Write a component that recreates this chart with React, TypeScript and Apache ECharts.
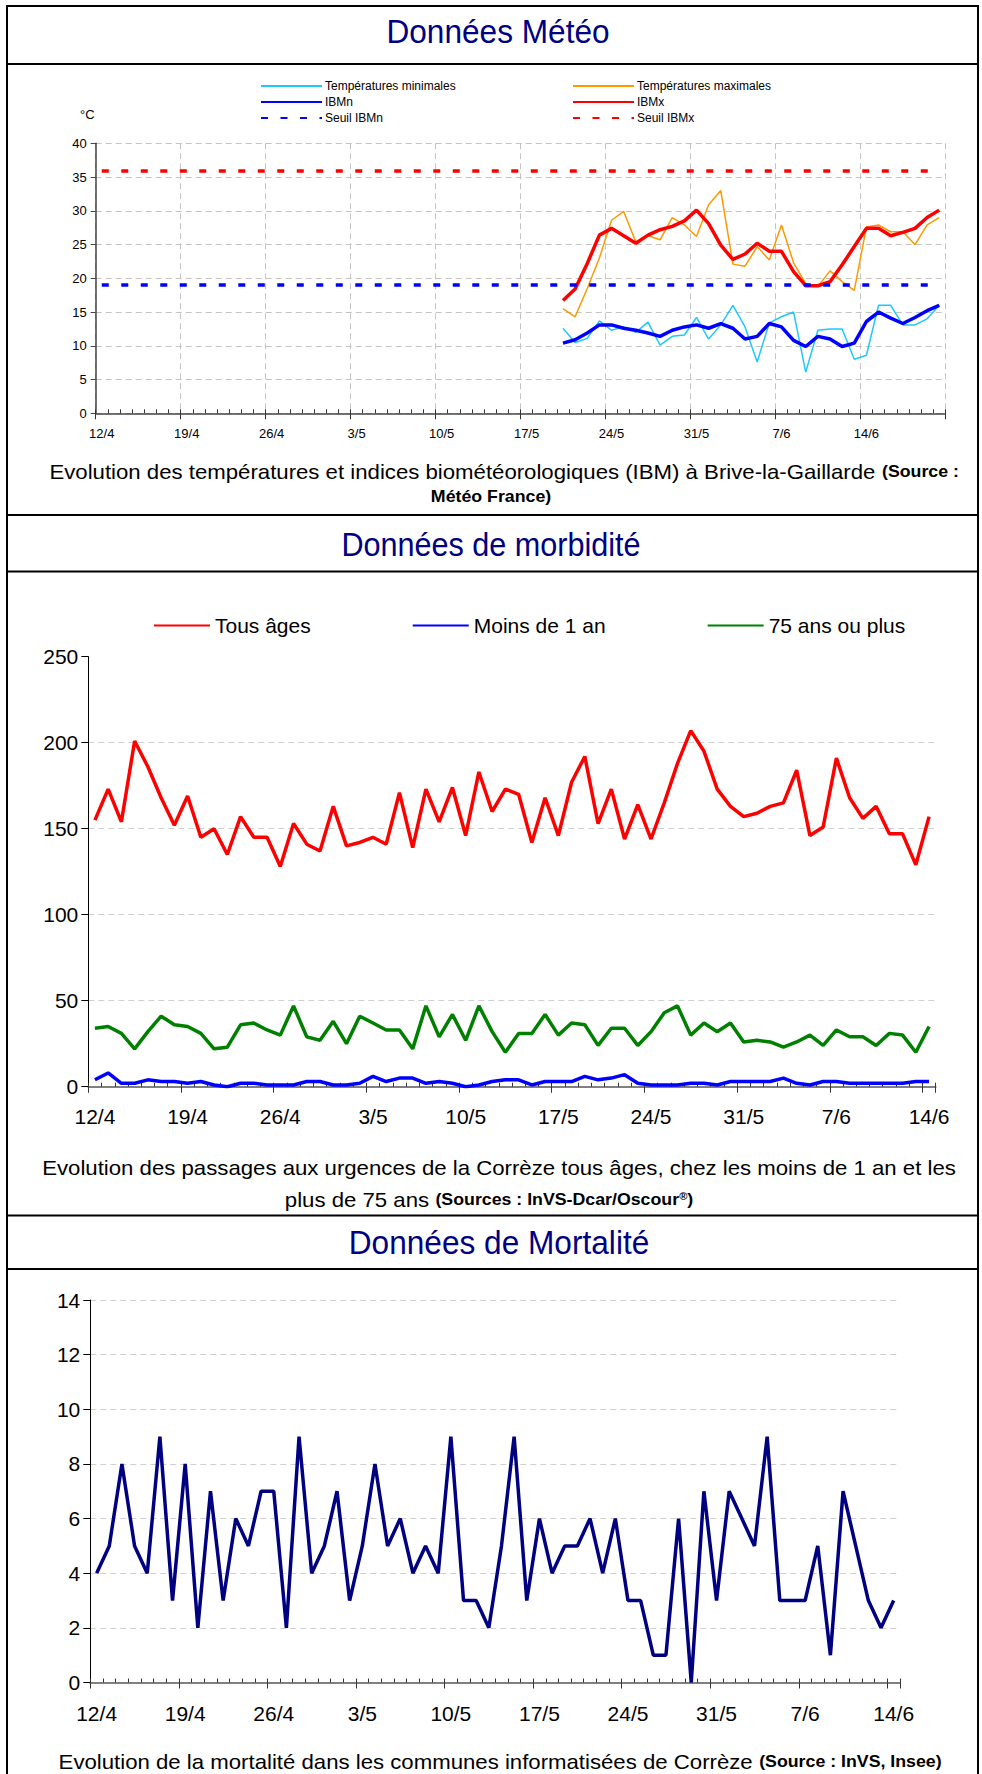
import React, { useEffect, useRef } from 'react';
import * as echarts from 'echarts';

const FONT = "'Liberation Sans', Arial, Helvetica, sans-serif";

function dayLabels(day: number, month: number, n: number): string[] {
  const out: string[] = [];
  for (let i = 0; i < n; i++) {
    const d = new Date(2012, month - 1, day + i);
    out.push(`${d.getDate()}/${d.getMonth() + 1}`);
  }
  return out;
}

// ---------- Données Météo ----------
const meteoDays = dayLabels(12, 4, 70); // 12/4 .. 20/6
const meteoStart = '20/5';
const tempMin = [12.6, 10.5, 11.1, 13.7, 12.3, 12.8, 12.0, 13.5, 10.1, 11.4, 11.6, 14.2, 11.0, 13.1, 16.0, 12.8, 7.6, 13.4, 14.3, 15.0, 6.1, 12.3, 12.5, 12.5, 8.0, 8.6, 16.0, 16.0, 13.1, 13.1, 14.0, 16.0];
const tempMax = [15.5, 14.3, 18.5, 23.0, 28.6, 29.9, 25.4, 26.3, 25.7, 29.0, 27.9, 26.2, 30.9, 33.0, 22.1, 21.8, 24.7, 22.7, 27.9, 22.3, 19.2, 18.8, 21.1, 19.5, 18.2, 27.6, 27.9, 26.9, 26.9, 25.0, 27.9, 29.0];
const ibmN = [10.4, 10.9, 11.9, 13.1, 13.1, 12.6, 12.3, 11.9, 11.4, 12.3, 12.8, 13.1, 12.6, 13.3, 12.6, 11.0, 11.4, 13.3, 12.8, 10.8, 9.9, 11.4, 11.0, 9.9, 10.4, 13.6, 15.0, 14.1, 13.3, 14.2, 15.2, 16.0];
const ibmX = [16.7, 18.4, 22.2, 26.4, 27.4, 26.3, 25.2, 26.4, 27.2, 27.7, 28.5, 30.1, 28.1, 24.9, 22.8, 23.6, 25.2, 24.0, 24.0, 21.0, 18.9, 18.9, 19.5, 22.0, 24.7, 27.4, 27.4, 26.3, 26.8, 27.4, 29.0, 30.1];
const seuilIBMn = 19;
const seuilIBMx = 36;

// ---------- Données de morbidité ----------
const morbDays = dayLabels(12, 4, 64); // 12/4 .. 14/6
const tousAges = [155, 173, 154, 201, 186, 168, 152, 169, 145, 150, 135, 157, 145, 145, 128, 153, 141, 137, 163, 140, 142, 145, 141, 171, 139, 173, 154, 174, 146, 183, 160, 173, 170, 142, 168, 146, 177, 192, 153, 173, 144, 164, 144, 165, 188, 207, 195, 173, 163, 157, 159, 163, 165, 184, 146, 151, 191, 168, 156, 163, 147, 147, 129, 157];
const moins1an = [4, 8, 2, 2, 4, 3, 3, 2, 3, 1, 0, 2, 2, 1, 1, 1, 3, 3, 1, 1, 2, 6, 3, 5, 5, 2, 3, 2, 0, 1, 3, 4, 4, 1, 3, 3, 3, 6, 4, 5, 7, 2, 1, 1, 1, 2, 2, 1, 3, 3, 3, 3, 5, 2, 1, 3, 3, 2, 2, 2, 2, 2, 3, 3];
const plus75 = [34, 35, 31, 22, 32, 41, 36, 35, 31, 22, 23, 36, 37, 33, 30, 47, 29, 27, 38, 25, 41, 37, 33, 33, 22, 47, 29, 42, 27, 47, 32, 20, 31, 31, 42, 30, 37, 36, 24, 34, 34, 24, 32, 43, 47, 30, 37, 32, 37, 26, 27, 26, 23, 26, 30, 24, 33, 29, 29, 24, 31, 30, 20, 35];

// ---------- Données de Mortalité ----------
const mortDays = dayLabels(12, 4, 64);
const deces = [4, 5, 8, 5, 4, 9, 3, 8, 2, 7, 3, 6, 5, 7, 7, 2, 9, 4, 5, 7, 3, 5, 8, 5, 6, 4, 5, 4, 9, 3, 3, 2, 5, 9, 3, 6, 4, 5, 5, 6, 4, 6, 3, 3, 1, 1, 6, 0, 7, 3, 7, 6, 5, 9, 3, 3, 3, 5, 1, 7, 5, 3, 2, 3];

function padMeteo(arr: number[]) {
  const off = meteoDays.indexOf(meteoStart);
  return meteoDays.map((_, i) => (i >= off && i - off < arr.length ? arr[i - off] : null));
}

function xAxesFor(gridIndex: number, days: string[], fontSize: number, margin: number, lineColor: string, lineWidth: number, vSplit: boolean) {
  return [
    {
      type: 'category', gridIndex, data: days, boundaryGap: true, position: 'bottom',
      axisLine: { show: true, onZero: false, lineStyle: { color: lineColor, width: lineWidth } },
      axisTick: { show: true, interval: 6, inside: false, length: 6, lineStyle: { color: '#333', width: 1 } },
      axisLabel: { interval: 6, fontSize, fontFamily: FONT, color: '#000', margin },
      splitLine: { show: vSplit, interval: 6, lineStyle: { color: '#c4c4c4', type: [6, 4], width: 1 } },
    },
    {
      type: 'category', gridIndex, data: days, boundaryGap: true, position: 'bottom',
      axisLine: { show: false },
      axisTick: { show: true, interval: 0, inside: true, length: 4, lineStyle: { color: '#333', width: 1 } },
      axisLabel: { show: false },
      splitLine: { show: false },
    },
  ];
}

const titleStyle = (text: string) => ({
  text, fill: '#000080', fontSize: 34, fontFamily: FONT, align: 'center', verticalAlign: 'middle',
});

export default function App() {
  const ref = useRef<HTMLDivElement>(null);
  useEffect(() => {
    if (!ref.current) return;
    const chart = echarts.init(ref.current, undefined, { renderer: 'svg' });
    const capRich = {
      a: { fontSize: 20, fontFamily: FONT, color: '#000' },
      b: { fontSize: 16, fontFamily: FONT, fontWeight: 'bold', color: '#000' },
      s: { fontSize: 10, fontFamily: FONT, fontWeight: 'bold', color: '#000', padding: [0, 0, 8, 0] },
    };
    const capScale = 1.11;
    const hline = (y: number) => ({ type: 'line', shape: { x1: 7, y1: y, x2: 978, y2: y }, style: { stroke: '#000', lineWidth: 2 } });
    const caption = (x: number, y: number, text: string) => ({
      type: 'text', x, y, scaleX: capScale, style: { text, rich: capRich, align: 'center', verticalAlign: 'middle' },
    });
    const legendCommon = {
      selectedMode: false,
      itemStyle: { opacity: 0 },
    };
    const option: any = {
      animation: false,
      backgroundColor: '#fff',
      graphic: [
        { type: 'rect', shape: { x: 7, y: 6, width: 971, height: 1800 }, style: { fill: 'none', stroke: '#000', lineWidth: 2 } },
        hline(64), hline(515), hline(571.5), hline(1215.5), hline(1269),
        { type: 'text', x: 498, y: 31, scaleX: 0.93, style: titleStyle('Données Météo') },
        { type: 'text', x: 491, y: 544, scaleX: 0.9, style: titleStyle('Données de morbidité') },
        { type: 'text', x: 499, y: 1242, scaleX: 0.93, style: titleStyle('Données de Mortalité') },
        caption(504, 472, '{a|Evolution des températures et indices biométéorologiques (IBM) à Brive-la-Gaillarde }{b|(Source :}'),
        caption(491, 497, '{b|Météo France)}'),
        caption(499, 1168, '{a|Evolution des passages aux urgences de la Corrèze tous âges, chez les moins de 1 an et les}'),
        caption(489, 1200, '{a|plus de 75 ans }{b|(Sources : InVS-Dcar/Oscour}{s|®}{b|)}'),
        caption(500, 1762, '{a|Evolution de la mortalité dans les communes informatisées de Corrèze }{b|(Source : InVS, Insee)}'),
      ],
      legend: [
        {
          ...legendCommon,
          data: ['Températures minimales', 'IBMn', 'Seuil IBMn'], orient: 'vertical', left: 255, top: 75,
          itemWidth: 61, itemHeight: 10, itemGap: 4,
          textStyle: { fontSize: 12, fontFamily: FONT, color: '#000', padding: [0, 0, 0, -2] },
        },
        {
          ...legendCommon,
          data: ['Températures maximales', 'IBMx', 'Seuil IBMx'], orient: 'vertical', left: 567, top: 75,
          itemWidth: 61, itemHeight: 10, itemGap: 4,
          textStyle: { fontSize: 12, fontFamily: FONT, color: '#000', padding: [0, 0, 0, -2] },
        },
        {
          ...legendCommon,
          data: ['Tous âges', 'Moins de 1 an', '75 ans ou plus'], orient: 'horizontal', left: 148, top: 610,
          itemWidth: 56, itemHeight: 14, itemGap: 101,
          textStyle: { fontSize: 21, fontFamily: FONT, color: '#000', padding: [0, 0, 0, 0] },
        },
      ],
      grid: [
        { left: 95.7, top: 143.3, width: 849.6, height: 270 },
        { left: 88.3, top: 656.7, width: 847.4, height: 430 },
        { left: 90.3, top: 1300, width: 809.7, height: 382.5 },
      ],
      xAxis: [
        ...xAxesFor(0, meteoDays, 13, 14, '#444', 1.5, true),
        ...xAxesFor(1, morbDays, 21, 19, '#808080', 2, false),
        ...xAxesFor(2, mortDays, 21, 20, '#808080', 2, false),
      ],
      yAxis: [
        {
          type: 'value', gridIndex: 0, min: 0, max: 40, interval: 5,
          name: '°C', nameLocation: 'end', nameGap: 22,
          nameTextStyle: { fontSize: 13, fontFamily: FONT, color: '#000', align: 'right', padding: [0, 1, 0, 0] },
          axisLine: { show: true, lineStyle: { color: '#444', width: 1.5 } },
          axisTick: { show: true, length: 5, lineStyle: { color: '#444' } },
          axisLabel: { fontSize: 13, fontFamily: FONT, color: '#000', margin: 9 },
          splitLine: { show: true, lineStyle: { color: '#c4c4c4', type: [6, 4], width: 1 } },
        },
        {
          type: 'value', gridIndex: 1, min: 0, max: 250, interval: 50,
          axisLine: { show: true, lineStyle: { color: '#000', width: 1 } },
          axisTick: { show: true, length: 7, lineStyle: { color: '#000' } },
          axisLabel: { fontSize: 21, fontFamily: FONT, color: '#000', margin: 10 },
          splitLine: { show: true, showMaxLine: false, lineStyle: { color: '#d0d0d0', type: [6, 4], width: 1 } },
        },
        {
          type: 'value', gridIndex: 2, min: 0, max: 14, interval: 2,
          axisLine: { show: true, lineStyle: { color: '#000', width: 1 } },
          axisTick: { show: true, length: 7, lineStyle: { color: '#000' } },
          axisLabel: { fontSize: 21, fontFamily: FONT, color: '#000', margin: 10 },
          splitLine: { show: true, lineStyle: { color: '#d0d0d0', type: [6, 4], width: 1 } },
        },
      ],
      series: [
        { name: 'Températures minimales', type: 'line', xAxisIndex: 0, yAxisIndex: 0, data: padMeteo(tempMin), symbol: 'none', color: '#1ec8ff', lineStyle: { color: '#1ec8ff', width: 1.5 } },
        { name: 'Températures maximales', type: 'line', xAxisIndex: 0, yAxisIndex: 0, data: padMeteo(tempMax), symbol: 'none', color: '#ff9900', lineStyle: { color: '#ff9900', width: 1.5 } },
        { name: 'IBMn', type: 'line', xAxisIndex: 0, yAxisIndex: 0, data: padMeteo(ibmN), symbol: 'none', color: '#0000ff', lineStyle: { color: '#0000ff', width: 3.5 } },
        { name: 'IBMx', type: 'line', xAxisIndex: 0, yAxisIndex: 0, data: padMeteo(ibmX), symbol: 'none', color: '#ff0000', lineStyle: { color: '#ff0000', width: 3.5 } },
        {
          name: 'Seuil IBMn', type: 'line', xAxisIndex: 0, yAxisIndex: 0, data: [], symbol: 'none', color: '#0000ff',
          lineStyle: { color: '#0000ff', width: 3.5, type: [7, 12.5] },
          markLine: {
            symbol: 'none', silent: true, label: { show: false },
            lineStyle: { color: '#0000ff', width: 3.5, type: [7, 12.5] },
            data: [[{ coord: [meteoDays[0], seuilIBMn] }, { coord: [meteoDays[meteoDays.length - 1], seuilIBMn] }]],
          },
        },
        {
          name: 'Seuil IBMx', type: 'line', xAxisIndex: 0, yAxisIndex: 0, data: [], symbol: 'none', color: '#ff0000',
          lineStyle: { color: '#ff0000', width: 3.5, type: [7, 12.5] },
          markLine: {
            symbol: 'none', silent: true, label: { show: false },
            lineStyle: { color: '#ff0000', width: 3.5, type: [7, 12.5] },
            data: [[{ coord: [meteoDays[0], seuilIBMx] }, { coord: [meteoDays[meteoDays.length - 1], seuilIBMx] }]],
          },
        },
        { name: 'Tous âges', type: 'line', xAxisIndex: 2, yAxisIndex: 1, data: tousAges, symbol: 'none', color: '#ff0000', lineStyle: { color: '#ff0000', width: 3.5 } },
        { name: 'Moins de 1 an', type: 'line', xAxisIndex: 2, yAxisIndex: 1, data: moins1an, symbol: 'none', color: '#0000ff', lineStyle: { color: '#0000ff', width: 3.5 } },
        { name: '75 ans ou plus', type: 'line', xAxisIndex: 2, yAxisIndex: 1, data: plus75, symbol: 'none', color: '#008000', lineStyle: { color: '#008000', width: 3.5 } },
        { name: 'Mortalité', type: 'line', xAxisIndex: 4, yAxisIndex: 2, data: deces, symbol: 'none', color: '#000080', lineStyle: { color: '#000080', width: 3.5 } },
      ],
    };
    chart.setOption(option);
    return () => chart.dispose();
  }, []);
  return <div ref={ref} style={{ position: 'absolute', left: 0, top: 0, width: 982, height: 1774 }} />;
}
